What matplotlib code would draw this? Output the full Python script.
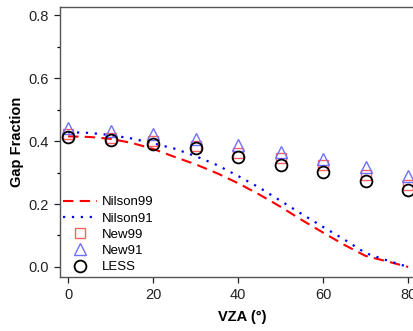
import numpy as np
import matplotlib.pyplot as plt

plt.rcParams['font.family'] = ['Liberation Sans', 'DejaVu Sans']

# Nilson model curves (VZA in degrees)
vza_line = [0, 5, 10, 15, 20, 25, 30, 35, 40, 45, 50, 55, 60, 65, 70, 75, 80]
nilson99 = [0.415, 0.413, 0.407, 0.394, 0.375, 0.350, 0.326, 0.298, 0.266, 0.230,
            0.191, 0.149, 0.109, 0.070, 0.035, 0.018, 0.0]
nilson91 = [0.428, 0.426, 0.419, 0.408, 0.393, 0.376, 0.352, 0.324, 0.289, 0.252,
            0.210, 0.168, 0.127, 0.087, 0.044, 0.021, 0.0]

# simulated gap fractions
vza_pts = [0, 10, 20, 30, 40, 50, 60, 70, 80]
new99 = [0.421, 0.411, 0.400, 0.383, 0.361, 0.347, 0.325, 0.293, 0.261]
new91 = [0.441, 0.431, 0.421, 0.406, 0.388, 0.364, 0.343, 0.319, 0.288]
less = [0.414, 0.403, 0.391, 0.378, 0.350, 0.325, 0.301, 0.272, 0.243]

fig = plt.figure(figsize=(4.14, 3.31), dpi=100)
ax = fig.add_axes([0.145, 0.163, 0.882, 0.816])

ax.plot(vza_line, nilson99, color='red', linestyle=(0, (5, 3)), lw=1.5,
        label='Nilson99', zorder=2)
ax.plot(vza_line, nilson91, color='blue', linestyle=(0, (1, 3)), lw=1.6,
        label='Nilson91', zorder=2)
ax.plot(vza_pts, new99, 's', ms=7, mfc='none', mec='#ff6060', mew=1.0,
        label='New99', zorder=3)
ax.plot(vza_pts, new91, '^', ms=8.5, mfc='none', mec='#7070ff', mew=1.0,
        label='New91', zorder=4)
ax.plot(vza_pts, less, 'o', ms=8.5, mfc='none', mec='black', mew=1.3,
        label='LESS', zorder=5)

ax.set_xlim(-1.9, 84)
ax.set_ylim(-0.032, 0.826)
ax.set_xticks([0, 20, 40, 60, 80])
ax.set_yticks([0.0, 0.2, 0.4, 0.6, 0.8])
ax.set_yticks([0.1, 0.3, 0.5, 0.7], minor=True)
ax.set_yticklabels(['0.0', '0.2', '0.4', '0.6', '0.8'])
ax.tick_params(axis='both', direction='out', labelsize=10.5, colors='#222222',
               length=4, width=0.9, pad=4)
ax.tick_params(axis='y', which='minor', direction='out', length=2.5, width=0.9)
for s in ax.spines.values():
    s.set_color('#555555')
    s.set_linewidth(1.0)

ax.set_xlabel('VZA (°)', fontsize=10.5, fontweight='bold', labelpad=6)
ax.set_ylabel('Gap Fraction', fontsize=10.5, fontweight='bold', labelpad=3)

ax.legend(loc='lower left', frameon=False, fontsize=9.5, handlelength=2.6,
          handletextpad=0.3, labelspacing=0.3, borderaxespad=0.0,
          bbox_to_anchor=(-0.006, -0.005))

fig.savefig('out.png', dpi=100)
